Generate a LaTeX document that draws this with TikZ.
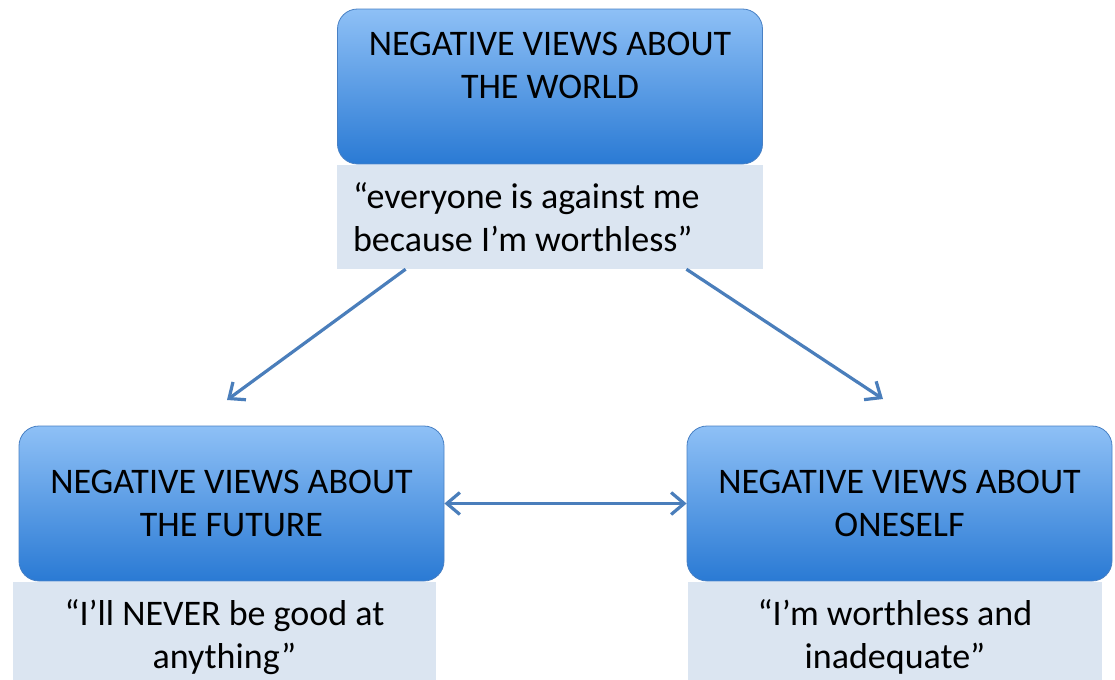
\documentclass[tikz,border=0pt]{standalone}
\usepackage{fontspec}
\setmainfont{Carlito}
\usepackage{xcolor}
\definecolor{boxtop}{RGB}{142,192,246}
\definecolor{boxbot}{RGB}{42,122,212}
\definecolor{boxframe}{RGB}{72,128,196}
\definecolor{quotebg}{RGB}{219,229,241}
\definecolor{arrblue}{RGB}{74,126,187}
\usepackage{tikz}
\usetikzlibrary{arrows.meta,positioning}
\newcommand{\vbfont}{\fontsize{18}{21.5}\selectfont}
\tikzset{
  vb_main/.style={rectangle,rounded corners=10pt,draw=boxframe,line width=0.4pt,
    top color=boxtop,bottom color=boxbot,minimum width=212.5pt,minimum height=77.5pt,
    inner sep=0pt,align=center,font=\vbfont},
  vb_text/.style={inner sep=0pt,align=center,font=\vbfont},
  vb_quote/.style={rectangle,fill=quotebg,inner sep=0pt,align=center,font=\vbfont},
  arr/.style={-{Straight Barb[length=6.5pt,width=11pt]},line width=1.6pt,draw=arrblue},
  dbl/.style={{Straight Barb[length=6.5pt,width=11pt]}-{Straight Barb[length=6.5pt,width=11pt]},
    line width=1.6pt,draw=arrblue},
}
\begin{document}
\begin{tikzpicture}[x=0.5pt,y=-0.5pt,node distance=0pt]
  \useasboundingbox (0,0) rectangle (1115,680);
  \node (world) [vb_main] at (550,86.5) {};
  \node (worldtxt) [vb_text,below=11.5pt of world.north] {NEGATIVE VIEWS ABOUT\\THE WORLD};
  \node (worldq) [vb_quote,below=of world,text width=197pt,align=flush left,
    inner xsep=8pt,minimum height=52pt] {“everyone is against me\\because I’m worthless”};
  \node (fut) [vb_main] at (231.5,503.5) {NEGATIVE VIEWS ABOUT\\THE FUTURE};
  \node (futq) [vb_quote,below=of fut,xshift=-3.5pt,minimum width=211.5pt,
    minimum height=55pt] {“I’ll NEVER be good at\\anything”};
  \node (self) [vb_main] at (899.5,503.5) {NEGATIVE VIEWS ABOUT\\ONESELF};
  \node (selfq) [vb_quote,below=of self,xshift=-2.25pt,minimum width=207pt,
    minimum height=55pt] {“I’m worthless and\\inadequate”};
  \coordinate (futtip) at (227,400);
  \coordinate (selftip) at (883,399);
  \draw[arr] ([xshift=34.5pt]worldq.south west) -- (futtip);
  \draw[arr] ([xshift=-38.5pt]worldq.south east) -- (selftip);
  \draw[dbl] (fut.east) -- (self.west);
\end{tikzpicture}
\end{document}
